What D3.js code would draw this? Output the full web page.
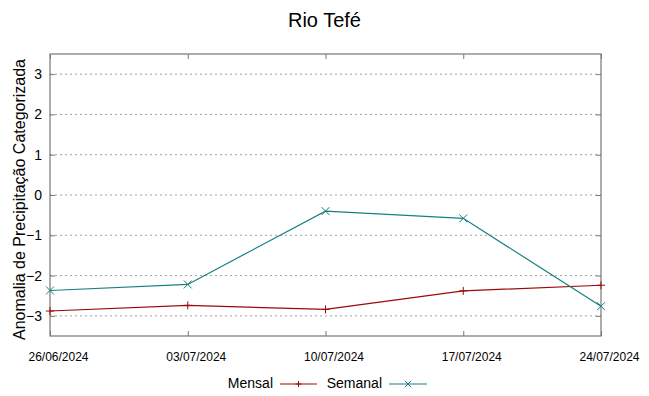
<!DOCTYPE html>
<html>
<head>
<meta charset="utf-8">
<script src="https://cdn.jsdelivr.net/npm/d3@7"></script>
<style>
  body { margin: 0; background: #fff; }
  text { font-family: "Liberation Sans", Arial, sans-serif; fill: #000; }
</style>
</head>
<body>
<div id="chart"></div>
<script>
// DATA
const dates = ["26/06/2024", "03/07/2024", "10/07/2024", "17/07/2024", "24/07/2024"];
const mensal = [-2.88, -2.74, -2.84, -2.38, -2.24];
const semanal = [-2.37, -2.22, -0.40, -0.58, -2.76];
const yTicks = [-3, -2, -1, 0, 1, 2, 3];

const W = 649, H = 396;
const margin = { top: 54, right: 48, bottom: 60, left: 50 };
const width = W - margin.left - margin.right;
const height = H - margin.top - margin.bottom;

const svg = d3.select("#chart").append("svg")
    .attr("width", W).attr("height", H);

const g = svg.append("g")
    .attr("transform", `translate(${margin.left},${margin.top})`);

const parse = d3.timeParse("%d/%m/%Y");
const x = d3.scaleTime()
    .domain([parse(dates[0]), parse(dates[dates.length - 1])])
    .range([0, width]);
const y = d3.scaleLinear().domain([-3.5, 3.5]).range([height, 0]);

// grid
g.selectAll(".grid").data(yTicks).join("line")
    .attr("x1", 0).attr("x2", width)
    .attr("y1", d => y(d)).attr("y2", d => y(d))
    .attr("stroke", "#a0a0a0").attr("stroke-width", 1)
    .attr("stroke-dasharray", "2,3");

// axes (ticks inward, mirrored)
const tickLen = 5;
g.append("g").attr("class", "ax")
    .call(d3.axisLeft(y).tickValues(yTicks).tickSize(-tickLen).tickPadding(8).tickFormat(d3.format("d")))
    .call(a => a.selectAll("text").style("font-size", "14px"));
g.append("g").attr("class", "ax")
    .attr("transform", `translate(${width},0)`)
    .call(d3.axisRight(y).tickValues(yTicks).tickSize(-tickLen).tickFormat(""));
g.append("g").attr("class", "ax")
    .attr("transform", `translate(0,${height})`)
    .call(d3.axisBottom(x).tickValues(dates.map(parse)).tickSize(-tickLen).tickPadding(16).tickFormat(d3.timeFormat("%d/%m/%Y")))
    .call(a => a.selectAll("text").style("font-size", "12px").attr("dx", 8));
g.append("g").attr("class", "ax")
    .call(d3.axisTop(x).tickValues(dates.map(parse)).tickSize(-tickLen).tickFormat(""));

g.selectAll(".ax .domain").remove();
g.selectAll(".ax line").attr("stroke", "#777");
g.selectAll(".ax text").attr("fill", "#000").style("font-family", "Liberation Sans, Arial, sans-serif");

g.append("rect")
    .attr("width", width).attr("height", height)
    .attr("fill", "none").attr("stroke", "#777").attr("stroke-width", 1.2);

// series
const series = [
    { name: "Mensal", values: mensal, color: "#9b0a0a", marker: "plus" },
    { name: "Semanal", values: semanal, color: "#168080", marker: "cross" }
];

const line = d3.line()
    .x((d, i) => x(parse(dates[i])))
    .y(d => y(d));

function marker(sel, type, color, s) {
    if (type === "plus") {
        sel.append("path").attr("d", `M${-s},0H${s}M0,${-s}V${s}`);
    } else {
        sel.append("path").attr("d", `M${-s},${-s}L${s},${s}M${-s},${s}L${s},${-s}`);
    }
    sel.selectAll("path").attr("stroke", color).attr("stroke-width", 1).attr("fill", "none");
}

series.forEach(s => {
    g.append("path").datum(s.values)
        .attr("d", line)
        .attr("fill", "none")
        .attr("stroke", s.color)
        .attr("stroke-width", 1.2);
    s.values.forEach((v, i) => {
        const m = g.append("g").attr("transform", `translate(${x(parse(dates[i]))},${y(v)})`);
        marker(m, s.marker, s.color, 4);
    });
});

// title
svg.append("text")
    .attr("x", 324.5).attr("y", 27)
    .attr("text-anchor", "middle")
    .style("font-size", "20px")
    .text("Rio Tefé");

// y label
svg.append("text")
    .attr("transform", `translate(25,199.5) rotate(-90)`)
    .attr("text-anchor", "middle")
    .style("font-size", "16px")
    .text("Anomalia de Precipitação Categorizada");

// legend
const legY = 384;
const leg = svg.append("g");
const legItems = [
    { s: series[0], textEnd: 273, x0: 280, x1: 317 },
    { s: series[1], textEnd: 382, x0: 389, x1: 427 }
];
legItems.forEach(it => {
    leg.append("text")
        .attr("x", it.textEnd).attr("y", legY + 4)
        .attr("text-anchor", "end")
        .style("font-size", "14px")
        .text(it.s.name);
    leg.append("line")
        .attr("x1", it.x0).attr("x2", it.x1)
        .attr("y1", legY).attr("y2", legY)
        .attr("stroke", it.s.color).attr("stroke-width", 1.2);
    const m = leg.append("g").attr("transform", `translate(${(it.x0 + it.x1) / 2},${legY})`);
    marker(m, it.s.marker, it.s.color, 3);
});
</script>
</body>
</html>
